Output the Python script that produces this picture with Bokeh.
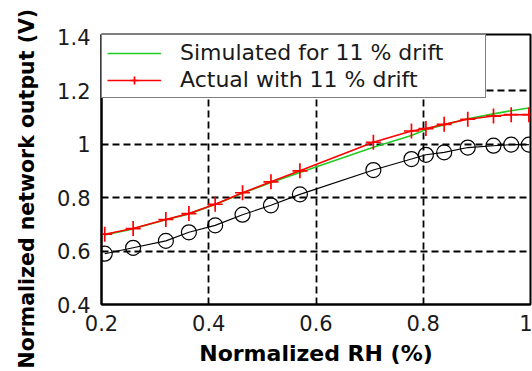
from bokeh.plotting import figure
from bokeh.models import Range1d, FixedTicker, Legend, LegendItem, Title
from bokeh.embed import file_html
from bokeh.resources import INLINE

# ---- data ----
rh = [0.206, 0.259, 0.320, 0.363, 0.412, 0.463, 0.516, 0.570, 0.707, 0.778,
      0.805, 0.839, 0.883, 0.931, 0.964, 0.997]
ideal = [0.590, 0.612, 0.638, 0.670, 0.696, 0.736, 0.771, 0.812, 0.903, 0.944,
         0.960, 0.969, 0.987, 0.994, 0.998, 0.998]
actual = [0.663, 0.684, 0.718, 0.740, 0.775, 0.818, 0.859, 0.900, 1.007, 1.049,
          1.058, 1.074, 1.093, 1.105, 1.110, 1.110]
simulated = [0.660, 0.683, 0.717, 0.739, 0.774, 0.816, 0.856, 0.894, 0.988, 1.032,
             1.055, 1.072, 1.095, 1.113, 1.125, 1.135]

x_ticks = [0.2, 0.4, 0.6, 0.8, 1.0]
x_tick_labels = ["0.2", "0.4", "0.6", "0.8", "1"]
y_ticks = [0.4, 0.6, 0.8, 1.0, 1.2, 1.4]
y_tick_labels = ["0.4", "0.6", "0.8", "1", "1.2", "1.4"]

legend_sim = "Simulated for 11 % drift"
legend_act = "Actual with 11 % drift"
x_title = "Normalized RH (%)"
y_title = "Normalized network output (V)"

FONT = "DejaVu Sans"

p = figure(width=532, height=371, output_backend="svg", toolbar_location=None,
           x_range=Range1d(0.2, 1.0), y_range=Range1d(0.4, 1.41),
           min_border_left=100, min_border_right=2, min_border_top=34,
           min_border_bottom=67)
p.background_fill_color = "white"
p.border_fill_color = "white"
p.outline_line_color = "black"
p.outline_line_width = 2

# axes
p.xaxis.ticker = FixedTicker(ticks=x_ticks)
p.yaxis.ticker = FixedTicker(ticks=y_ticks)
p.xaxis.major_label_overrides = dict(zip(x_ticks, x_tick_labels))
p.yaxis.major_label_overrides = dict(zip(y_ticks, y_tick_labels))
for ax in (p.xaxis, p.yaxis):
    ax.axis_line_color = "black"
    ax.axis_line_width = 2
    ax.major_tick_in = 5
    ax.major_tick_out = 0
    ax.major_tick_line_color = "black"
    ax.minor_tick_line_color = None
    ax.major_label_text_font = FONT
    ax.major_label_text_font_size = "21px"
    ax.major_label_text_color = "#1a1a1a"
p.xaxis.major_label_standoff = 10
p.yaxis.major_label_standoff = 11
p.xaxis.axis_label = x_title
p.xaxis.axis_label_text_font = FONT
p.xaxis.axis_label_text_font_style = "bold"
p.xaxis.axis_label_text_color = "black"
p.xaxis.axis_label_text_font_size = "22px"
p.xaxis.axis_label_standoff = 7

# y-axis title as a side title, so it can sit a little below the frame centre
ytitle = Title(text=y_title, align="left", offset=-64, vertical_align="top",
               standoff=28, text_font=FONT, text_font_style="bold",
               text_font_size="20.5px", text_color="black")
p.add_layout(ytitle, "left")

# grid
p.xgrid.ticker = FixedTicker(ticks=[0.4, 0.6, 0.8])
p.ygrid.ticker = FixedTicker(ticks=[0.6, 0.8, 1.0, 1.2])
for g in (p.xgrid, p.ygrid):
    g.grid_line_color = "black"
    g.grid_line_width = 1.8
    g.grid_line_dash = "7 4"

# series
g_sim = p.line(rh, simulated, line_color="#22cc22", line_width=1.6)
r_line = p.line(rh, actual, line_color="#ff0000", line_width=1.6)
r_pts = p.scatter(rh, actual, marker="cross", size=15, line_color="#ff0000",
                  line_width=1.7)
p.line(rh, ideal, line_color="black", line_width=1.1)
p.scatter(rh, ideal, marker="circle", size=15, line_color="black",
          fill_color=None, line_width=1.2)

legend = Legend(items=[LegendItem(label=legend_sim, renderers=[g_sim]),
                       LegendItem(label=legend_act, renderers=[r_line, r_pts])],
                location="top_left", margin=0, padding=5, spacing=2,
                glyph_width=54, label_standoff=19, label_width=300,
                label_text_font=FONT, label_text_font_size="22px",
                label_text_color="#1a1a1a",
                border_line_color="black", border_line_width=1.8,
                background_fill_color="white", background_fill_alpha=1.0)
p.add_layout(legend)

open("out.html", "w").write(file_html(p, INLINE))
